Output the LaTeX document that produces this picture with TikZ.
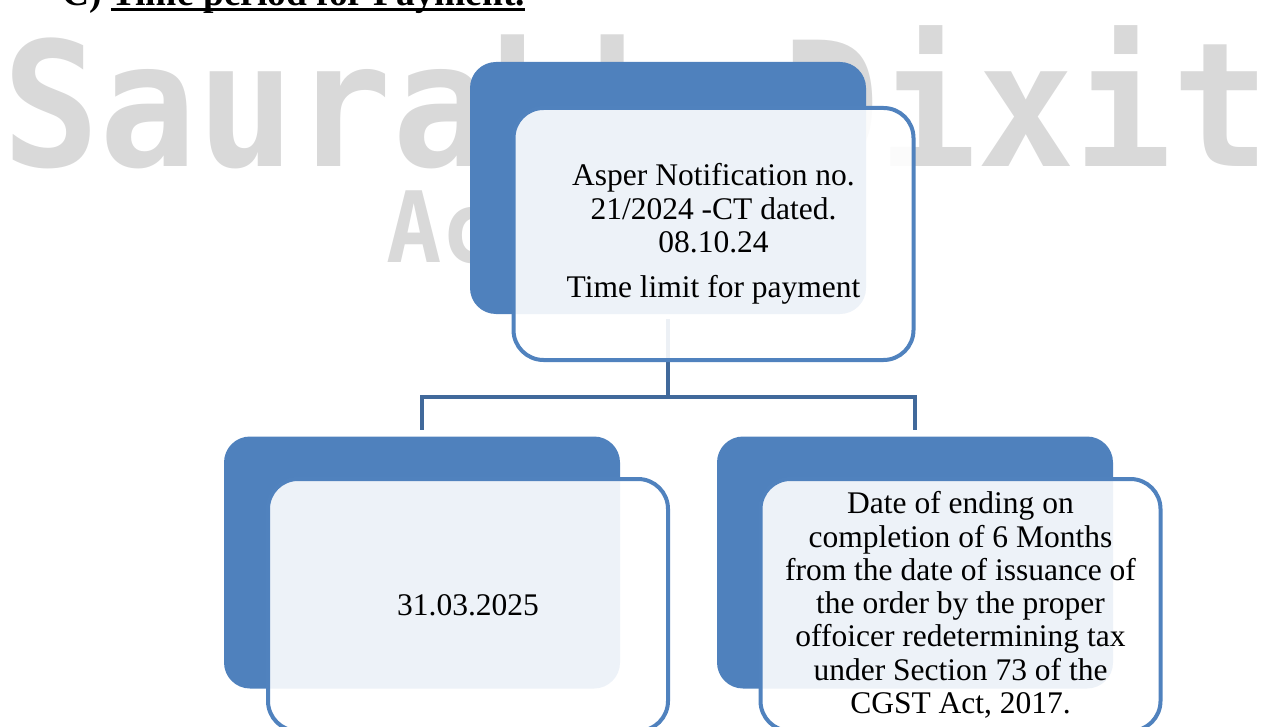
\documentclass[tikz,border=0pt]{standalone}
\usepackage{fontspec}
\setmainfont{Liberation Serif}
\newfontfamily\wmfont{DejaVu Sans Mono}
\usetikzlibrary{positioning}

\definecolor{boxblue}{RGB}{79,129,189}
\definecolor{edgeblue}{RGB}{80,130,190}
\definecolor{linkblue}{RGB}{65,105,155}
\definecolor{wmgray}{RGB}{217,217,217}

\newcommand{\boxfont}{\fontsize{31.5}{33.3}\selectfont}
\newcommand{\wmtext}[1]{\scalebox{1}[1.07]{#1}}

\tikzset{
  backbox/.style={rectangle, rounded corners=26, fill=boxblue,
    minimum width=396, minimum height=252},
  frontbox/.style={rectangle, rounded corners=30, draw=edgeblue, line width=4,
    fill=white, fill opacity=0.9, text opacity=1, inner sep=0,
    minimum width=400, minimum height=252, align=center, font=\boxfont},
  link/.style={draw=linkblue, line width=4.5, line join=miter},
  titletext/.style={inner sep=0, font=\fontsize{37.5}{40}\selectfont\bfseries},
  watermark/.style={inner sep=0, text=wmgray, anchor=base west},
}

\begin{document}
\begin{tikzpicture}[x=1pt, y=-1pt]
  \useasboundingbox (0,0) rectangle (1273,727);

  % watermark
  \node[watermark, font=\fontsize{162}{162}\selectfont\wmfont\bfseries] (wmname) at (2,167) {\wmtext{Saurabh Dixit}};
  \node[watermark, font=\fontsize{92}{92}\selectfont\wmfont\bfseries] (wmsub) at (386,262) {\wmtext{Ac}};

  % heading
  \node[titletext, anchor=base west] (ttlc) at (62,6) {C)};
  \node[titletext, base right=9pt of ttlc] (ttl) {Time period for Payment.};
  \draw[line width=3] ([yshift=-4pt]ttl.base west) -- ([yshift=-4pt]ttl.base east);

  % back boxes
  \node[backbox] (topback) at (668,188) {};
  \node[backbox] (leftback) at (422,562.5) {};
  \node[backbox] (rightback) at (915,562.5) {};

  % connectors
  \coordinate (fork) at (668,397);
  \draw[link, shorten <=5pt] (topback.south) -- (fork);
  \draw[link, shorten >=6pt] (fork) -| (leftback.north);
  \draw[link, shorten >=6pt] (fork) -| (rightback.north);

  % front boxes
  \node[frontbox] (topfront) at (713.5,234)
    {Asper Notification no.\\ 21/2024 -CT dated.\\ 08.10.24\\[12pt] Time limit for payment};
  \node[frontbox] (leftfront) at (468,605) {31.03.2025};
  \node[frontbox] (rightfront) at (960.5,605)
    {Date of ending on\\ completion of 6 Months\\ from the date of issuance of\\ the order by the proper\\
     offoicer redetermining tax\\ under Section 73 of the\\ CGST Act, 2017.};
\end{tikzpicture}
\end{document}
